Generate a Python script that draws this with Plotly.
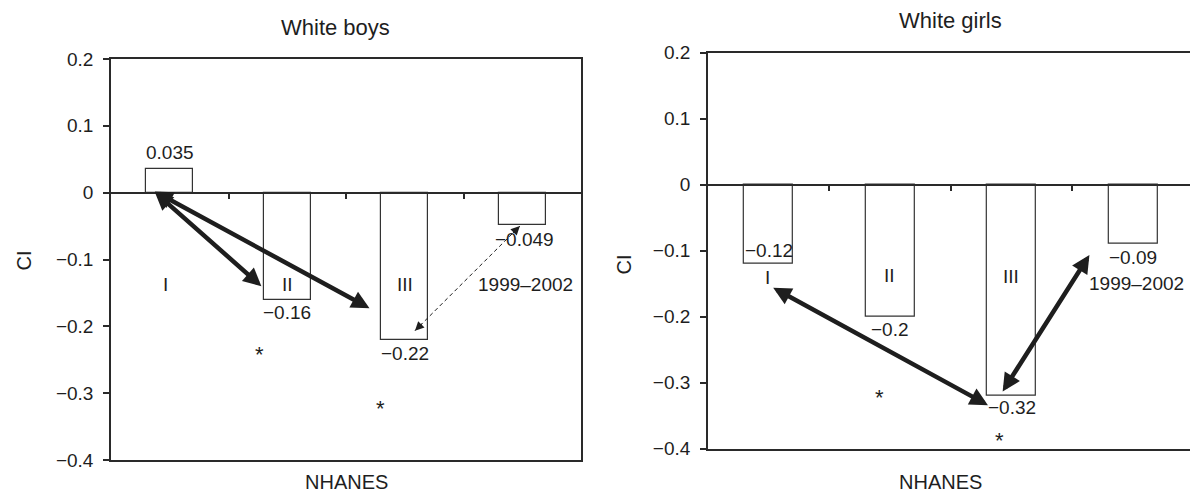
import plotly.graph_objects as go

# ---------------- data ----------------
categories = ["I", "II", "III", "1999–2002"]
boys_ci = [0.035, -0.16, -0.22, -0.049]
girls_ci = [-0.12, -0.2, -0.32, -0.09]
boys_value_text = ["0.035", "−0.16", "−0.22", "−0.049"]
girls_value_text = ["−0.12", "−0.2", "−0.32", "−0.09"]
y_tick_vals = [0.2, 0.1, 0.0, -0.1, -0.2, -0.3, -0.4]
y_tick_text = ["0.2", "0.1", "0", "−0.1", "−0.2", "−0.3", "−0.4"]
panel_titles = ["White boys", "White girls"]

# significance marks (x in category units, y in CI units)
boys_stars = [(0.76, -0.233), (1.79, -0.314)]
girls_stars = [(0.91, -0.314), (1.90, -0.379)]

# comparison arrows ((x0, y0), (x1, y1))
boys_arrows = [((-0.14, 0.003), (0.78, -0.140)), ((-0.14, 0.003), (1.70, -0.173))]
boys_dashed = ((2.087, -0.2065), (2.98, -0.050))
girls_arrows = [((0.025, -0.155), (1.805, -0.334)), ((1.918, -0.3155), (2.64, -0.1066))]

# ---------------- style ----------------
FONT = "Liberation Sans, Arial, Helvetica, sans-serif"
INK = "#1e1e1e"
AX = "#2a2a2a"

xpos = list(range(len(categories)))

# layout geometry (paper fractions)
L_XDOM = [111 / 1190, 581 / 1190]
L_YDOM = [1 - 460 / 494, 1 - 59 / 494]
R_XDOM = [707.9 / 1190, 1.0]
R_YDOM = [1 - 448.7 / 494, 1 - 52.7 / 494]
YR = [-0.4, 0.2]
L_XR = [-0.5, 3.5]
R_XR = [-0.5, -0.5 + (1190 - 707.9) / 121.5]


def zero_pos(dom):
    return dom[0] + (0 - YR[0]) / (YR[1] - YR[0]) * (dom[1] - dom[0])


fig = go.Figure()
for vals, xa, ya in [(boys_ci, "x", "y"), (girls_ci, "x2", "y2")]:
    fig.add_trace(go.Bar(
        x=xpos, y=vals, width=0.4, xaxis=xa, yaxis=ya,
        marker=dict(color="white", line=dict(color="#333333", width=1.2)),
        showlegend=False, hoverinfo="skip"))

# dummy traces so the zero-line axes exist
fig.add_trace(go.Scatter(x=[None], y=[None], xaxis="x3", yaxis="y", showlegend=False, hoverinfo="skip"))
fig.add_trace(go.Scatter(x=[None], y=[None], xaxis="x4", yaxis="y2", showlegend=False, hoverinfo="skip"))

# dashed arrow line (boys)
(dx0, dy0), (dx1, dy1) = boys_dashed
fig.add_trace(go.Scatter(x=[dx0, dx1], y=[dy0, dy1], mode="lines", xaxis="x", yaxis="y",
                         line=dict(color=INK, width=1, dash="4px,3px"),
                         showlegend=False, hoverinfo="skip"))

base_x = dict(showline=True, linecolor=AX, linewidth=1.5, ticks="", showticklabels=False,
              showgrid=False, zeroline=False, fixedrange=True, automargin=False)
base_y = dict(range=YR, tickvals=y_tick_vals, ticktext=y_tick_text, ticks="outside", ticklen=6,
              tickwidth=1.5, tickcolor=AX, showline=True, linecolor=AX, linewidth=1.5,
              showgrid=False, zeroline=False, tickfont=dict(size=19, color=INK, family=FONT),
              ticklabelstandoff=6, automargin=False, fixedrange=True)
zero_x = dict(showline=True, linecolor=AX, linewidth=1.5, ticks="outside", ticklen=6, tickwidth=1.5,
              tickcolor=AX, tickvals=[0.5, 1.5, 2.5], showticklabels=False, showgrid=False,
              zeroline=False, anchor="free", automargin=False, fixedrange=True)

fig.update_layout(
    width=1190, height=494,
    margin=dict(l=0, r=0, t=0, b=0, pad=0),
    paper_bgcolor="white", plot_bgcolor="white",
    font=dict(family=FONT, color=INK, size=18),
    bargap=0,
    xaxis=dict(domain=L_XDOM, anchor="y", range=L_XR, mirror=True, **base_x),
    yaxis=dict(domain=L_YDOM, anchor="x", mirror=True, **base_y),
    xaxis2=dict(domain=R_XDOM, anchor="y2", range=R_XR, mirror=True, **base_x),
    yaxis2=dict(domain=R_YDOM, anchor="x2", mirror=False, **base_y),
    xaxis3=dict(overlaying="x", range=L_XR, position=zero_pos(L_YDOM), **zero_x),
    xaxis4=dict(overlaying="x2", range=R_XR, position=zero_pos(R_YDOM), **zero_x),
)

ann = []


def txt(x, y, s, xr, yr, yshift=0, xshift=0, size=19):
    return dict(x=x, y=y, xref=xr, yref=yr, text=s, showarrow=False, xanchor="center",
                yanchor="middle", yshift=yshift, xshift=xshift,
                font=dict(size=size, color=INK, family=FONT))


# value labels
boys_shift = [17, -13, -14, -14]
girls_shift = [13, -13, -12, -13]
for i, v in enumerate(boys_ci):
    ann.append(txt(xpos[i], v, boys_value_text[i], "x", "y", yshift=boys_shift[i],
                   xshift=2 if i == 3 else 0))
for i, v in enumerate(girls_ci):
    ann.append(txt(xpos[i], v, girls_value_text[i], "x2", "y2", yshift=girls_shift[i]))

# category labels
boys_cat_y = [-0.138, -0.138, -0.138, -0.137]
girls_cat_y = [-0.140, -0.138, -0.139, -0.149]
for i, c in enumerate(categories):
    ann.append(txt(xpos[i], boys_cat_y[i], c, "x", "y", xshift=3 if i == 3 else -4 if i == 0 else 0))
    ann.append(txt(xpos[i], girls_cat_y[i], c, "x2", "y2", xshift=3 if i == 3 else -1))

# asterisks
for sx, sy in boys_stars:
    ann.append(txt(sx, sy, "*", "x", "y", yshift=-6, size=22))
for sx, sy in girls_stars:
    ann.append(txt(sx, sy, "*", "x2", "y2", yshift=-6, size=22))


def arrow(p0, p1, xr, yr, width=4.5, size=0.8, heads="end+start"):
    return dict(x=p1[0], y=p1[1], ax=p0[0], ay=p0[1], xref=xr, yref=yr, axref=xr, ayref=yr,
                text="", showarrow=True, arrowhead=2, startarrowhead=2, arrowside=heads,
                arrowsize=size, startarrowsize=size, arrowwidth=width, arrowcolor=INK,
                standoff=0, startstandoff=0)


for p0, p1 in boys_arrows:
    ann.append(arrow(p0, p1, "x", "y"))
for p0, p1 in girls_arrows:
    ann.append(arrow(p0, p1, "x2", "y2"))

# heads of dashed arrow
for tip, other in [(boys_dashed[1], boys_dashed[0]), (boys_dashed[0], boys_dashed[1])]:
    f = 0.08
    back = (tip[0] + (other[0] - tip[0]) * f, tip[1] + (other[1] - tip[1]) * f)
    ann.append(arrow(back, tip, "x", "y", width=1, size=1.8, heads="end"))

# panel titles, axis titles
ann.append(dict(x=335 / 1190, y=1 - 27.3 / 494, xref="paper", yref="paper", text=panel_titles[0],
                showarrow=False, xanchor="center", yanchor="middle", font=dict(size=22, color=INK, family=FONT)))
ann.append(dict(x=950.7 / 1190, y=1 - 20.7 / 494, xref="paper", yref="paper", text=panel_titles[1],
                showarrow=False, xanchor="center", yanchor="middle", font=dict(size=22, color=INK, family=FONT)))
for xx, yy in [(23 / 1190, 1 - 260.5 / 494), (624.4 / 1190, 1 - 264 / 494)]:
    ann.append(dict(x=xx, y=yy, xref="paper", yref="paper", text="CI", textangle=-90, showarrow=False,
                    xanchor="center", yanchor="middle", font=dict(size=20, color=INK, family=FONT)))
for xx in [346 / 1190, 940 / 1190]:
    ann.append(dict(x=xx, y=0, xref="paper", yref="paper", text="NHANES", showarrow=False,
                    xanchor="center", yanchor="bottom", borderpad=0,
                    font=dict(size=20, color=INK, family=FONT)))

fig.update_layout(annotations=ann)
fig.write_html(
    "out.html",
    config={"displayModeBar": False},
    post_script="document.body.style.margin='0';document.body.style.padding='0';"
                "document.documentElement.style.overflow='hidden';",
)
